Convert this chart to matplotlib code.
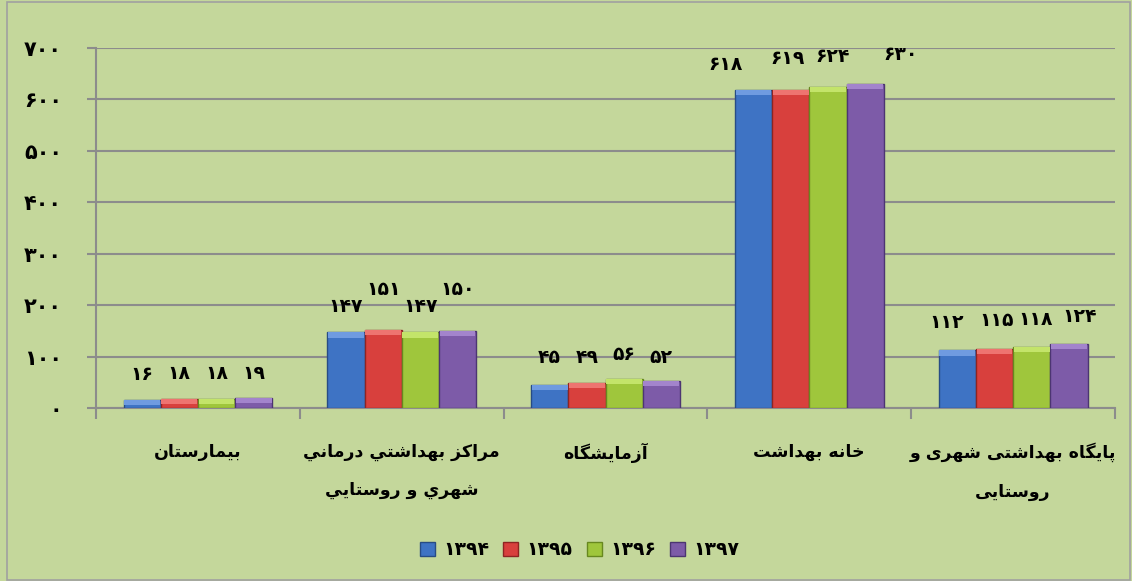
import matplotlib
matplotlib.use("Agg")
import matplotlib.pyplot as plt
import numpy as np
from matplotlib.patches import Rectangle

# ---------------- data ----------------
categories = [
    "بیمارستان",
    "مراکز بهداشتي درماني\nشهري و روستايي",
    "آزمایشگاه",
    "خانه بهداشت",
    "پایگاه بهداشتی شهری و\nروستایی",
]
series_names = ["۱۳۹۴", "۱۳۹۵", "۱۳۹۶", "۱۳۹۷"]
v1394 = [16, 147, 45, 618, 112]
v1395 = [18, 151, 49, 619, 115]
v1396 = [18, 147, 56, 624, 118]
v1397 = [19, 150, 52, 630, 124]
yticks = [0, 100, 200, 300, 400, 500, 600, 700]

# ---------------- Arabic shaping helpers ----------------
FORMS = {
    'ا': (0xFE8D, 0xFE8E, None, None),
    'آ': (0xFE81, 0xFE82, None, None),
    'ب': (0xFE8F, 0xFE90, 0xFE91, 0xFE92),
    'پ': (0xFB56, 0xFB57, 0xFB58, 0xFB59),
    'ت': (0xFE95, 0xFE96, 0xFE97, 0xFE98),
    'خ': (0xFEA5, 0xFEA6, 0xFEA7, 0xFEA8),
    'د': (0xFEA9, 0xFEAA, None, None),
    'ر': (0xFEAD, 0xFEAE, None, None),
    'ز': (0xFEAF, 0xFEB0, None, None),
    'س': (0xFEB1, 0xFEB2, 0xFEB3, 0xFEB4),
    'ش': (0xFEB5, 0xFEB6, 0xFEB7, 0xFEB8),
    'ک': (0xFB8E, 0xFB8F, 0xFB90, 0xFB91),
    'ك': (0xFED9, 0xFEDA, 0xFEDB, 0xFEDC),
    'گ': (0xFB92, 0xFB93, 0xFB94, 0xFB95),
    'ل': (0xFEDD, 0xFEDE, 0xFEDF, 0xFEE0),
    'م': (0xFEE1, 0xFEE2, 0xFEE3, 0xFEE4),
    'ن': (0xFEE5, 0xFEE6, 0xFEE7, 0xFEE8),
    'ه': (0xFEE9, 0xFEEA, 0xFEEB, 0xFEEC),
    'و': (0xFEED, 0xFEEE, None, None),
    'ی': (0xFBFC, 0xFBFD, 0xFBFE, 0xFBFF),
    'ي': (0xFEF1, 0xFEF2, 0xFEF3, 0xFEF4),
}


def shape_line(s):
    out = []
    n = len(s)
    for i, c in enumerate(s):
        f = FORMS.get(c)
        if f is None:
            out.append(c)
            continue
        prev = s[i - 1] if i > 0 else None
        nxt = s[i + 1] if i < n - 1 else None
        jp = prev in FORMS and FORMS[prev][2] is not None
        jn = nxt in FORMS and f[2] is not None
        if jp and jn:
            g = f[3]
        elif jp:
            g = f[1]
        elif jn:
            g = f[2]
        else:
            g = f[0]
        out.append(chr(g))
    return "".join(reversed(out))


def shape(s):
    return "\n".join(shape_line(l) for l in s.split("\n"))


def fa_digits(n):
    return str(n).translate(str.maketrans("0123456789", "۰۱۲۳۴۵۶۷۸۹"))


# ---------------- styling ----------------
plt.rcParams['font.family'] = ['DejaVu Sans']
BG = "#C4D79B"
GRID = "#8C8C8C"
colors = ["#3E73C4", "#D8403D", "#9FC63C", "#7D5BA8"]
lights = ["#6F9BE0", "#EE7470", "#C3E46A", "#A384CC"]
edges = ["#274C85", "#8E2422", "#67881F", "#4C3572"]

fig = plt.figure(figsize=(11.32, 5.81), dpi=100, facecolor=BG)
ax = fig.add_axes([0.0848, 0.2978, 0.9002, 0.6196])
ax.set_facecolor(BG)

series = [v1394, v1395, v1396, v1397]
x = np.arange(len(categories))
w = 0.1825
band = 10  # highlight band height (data units) for a bevel-like look
for i, vals in enumerate(series):
    xs = x + (i - 1.5) * w
    vals = np.asarray(vals, dtype=float)
    ax.bar(xs, vals, width=w, color=colors[i], edgecolor=edges[i],
           linewidth=1.0, zorder=3, label=series_names[i])
    bottoms = np.maximum(vals - band, vals * 0.4)
    ax.bar(xs, vals - bottoms, bottom=bottoms, width=w * 0.96,
           color=lights[i], edgecolor="none", linewidth=0, zorder=3.5)

# value label offsets in pixels (rows = series, cols = categories)
label_dx = [
    [0, 0, 0, -28, -11],
    [0, 0, 0, -3, 2],
    [0, 0, 0, 5, 4],
    [0, 0, 0, 35, 11],
]
label_dy = [
    [25, 26, 27, 26, 28],
    [25, 41, 25, 31, 28],
    [25, 26, 25, 31, 28],
    [25, 41, 24, 29, 28],
]
for i, vals in enumerate(series):
    for j, v in enumerate(vals):
        ax.annotate(fa_digits(v), (x[j] + (i - 1.5) * w, v),
                    xytext=(label_dx[i][j] * 0.72, label_dy[i][j] * 0.72),
                    textcoords="offset points", ha="center", va="center",
                    fontsize=13.5, fontweight="bold", color="black", zorder=5)

ax.set_xlim(-0.5, len(categories) - 0.5)
ax.set_ylim(0, 700)
ax.set_yticks(yticks)
ax.set_yticklabels([fa_digits(t) for t in yticks], fontsize=15, fontweight="bold")
ax.yaxis.grid(True, color=GRID, linewidth=1.5, zorder=0)
ax.set_axisbelow(True)

ax.set_xticks(np.arange(-0.5, len(categories), 1.0))
ax.set_xticklabels([])
ax.set_xticks(x, minor=True)
ax.set_xticklabels([shape(c) for c in categories], minor=True,
                   fontsize=12.5, fontweight="bold", linespacing=2.45, va="top")
ax.tick_params(axis="x", which="minor", length=0, pad=25)
ax.tick_params(axis="x", which="major", length=8, color=GRID, width=1.5)
ax.tick_params(axis="y", length=6.5, color=GRID, width=1.5, pad=18)

for side in ["top", "right"]:
    ax.spines[side].set_visible(False)
for side in ["left", "bottom"]:
    ax.spines[side].set_color(GRID)
    ax.spines[side].set_linewidth(1.5)

leg = fig.legend(loc="lower center", bbox_to_anchor=(0.512, 0.008), ncol=4,
                 frameon=False, handlelength=0.8, handleheight=0.8,
                 handletextpad=0.45, columnspacing=0.75,
                 prop={"size": 13.5, "weight": "bold"})

fig.patches.append(Rectangle((0.006, 0.002), 0.992, 0.994, transform=fig.transFigure,
                             fill=False, edgecolor="#A0A0A0", linewidth=1.2))

fig.savefig("out.png", dpi=100, facecolor=BG)
